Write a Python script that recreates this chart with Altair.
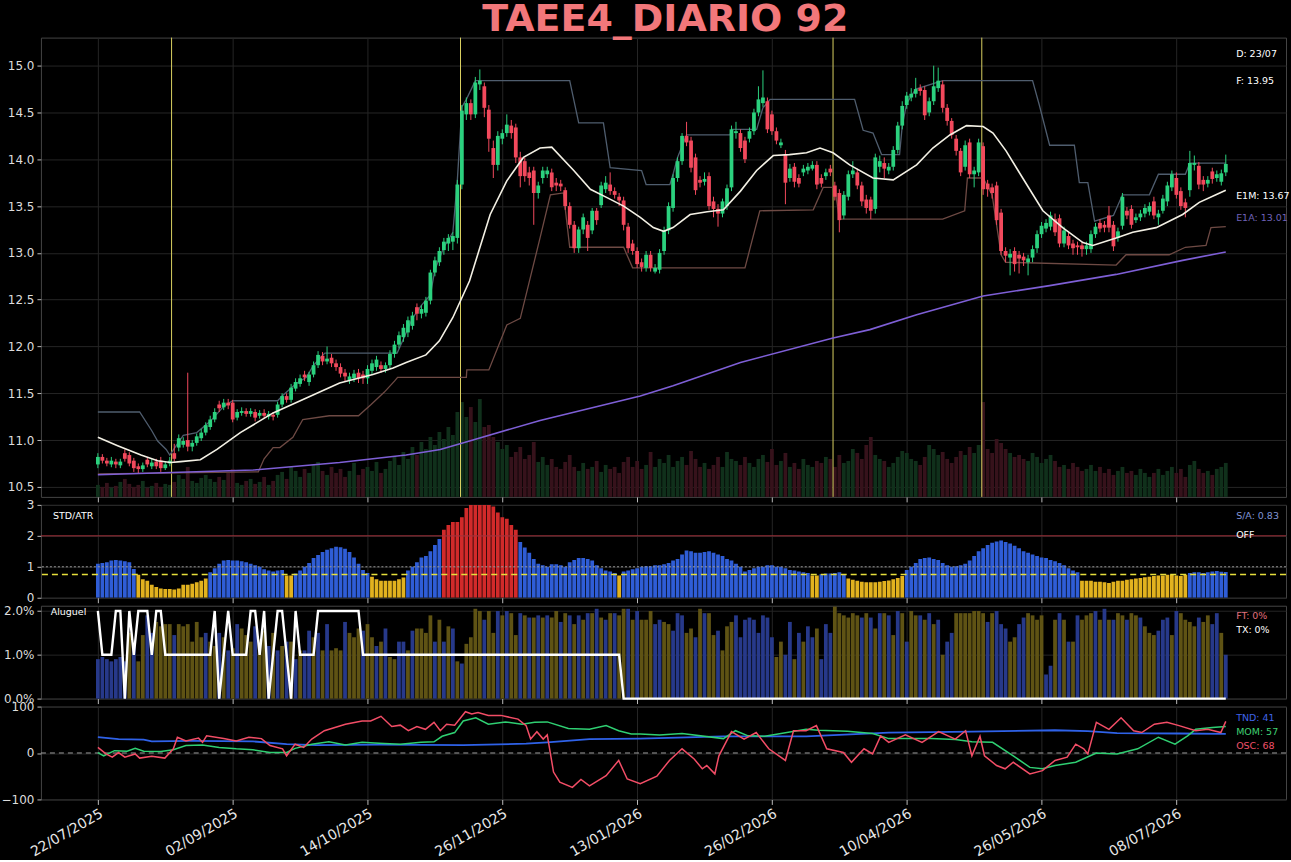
import altair as alt
import pandas as pd

N = 252
TICK_BARS = [0, 30, 60, 90, 120, 150, 180, 210, 240]
DATE_LABELS = ['22/07/2025', '02/09/2025', '14/10/2025', '26/11/2025', '13/01/2026',
               '26/02/2026', '10/04/2026', '26/05/2026', '08/07/2026']

OPEN = [10.74,10.82,10.78,10.74,10.77,10.73,10.86,10.84,10.78,10.72,
        10.69,10.79,10.72,10.77,10.78,10.70,10.75,10.86,10.92,10.95,
        11.00,10.93,10.97,11.02,11.08,11.14,11.22,11.38,11.35,11.40,
        11.40,11.24,11.29,11.31,11.28,11.30,11.26,11.29,11.25,11.27,
        11.27,11.38,11.47,11.43,11.55,11.60,11.70,11.62,11.70,11.80,
        11.90,11.84,11.88,11.82,11.78,11.72,11.64,11.66,11.72,11.70,
        11.66,11.74,11.78,11.80,11.76,11.80,11.92,12.02,12.10,12.15,
        12.22,12.42,12.35,12.36,12.49,12.79,12.90,13.03,13.10,13.12,
        13.16,13.73,14.48,14.60,14.48,14.80,14.78,14.53,14.12,13.94,
        14.22,14.28,14.36,14.34,14.02,13.98,13.86,13.88,13.64,13.80,
        13.84,13.86,13.75,13.74,13.67,13.50,13.30,13.05,13.25,13.30,
        13.24,13.45,13.51,13.68,13.73,13.66,13.60,13.56,13.28,13.10,
        13.02,12.90,12.84,12.98,12.80,12.82,13.02,13.24,13.48,13.80,
        13.98,14.25,14.20,14.02,13.78,13.76,13.82,13.55,13.47,13.42,
        13.50,13.70,14.28,14.28,14.20,14.22,14.30,14.50,14.60,14.62,
        14.48,14.30,14.15,14.05,13.80,13.92,13.80,13.86,13.88,13.90,
        13.94,13.80,13.82,13.90,13.72,13.64,13.40,13.60,13.84,13.86,
        13.72,13.57,13.57,13.47,13.92,13.96,13.88,13.92,14.10,14.36,
        14.58,14.66,14.70,14.76,14.74,14.50,14.62,14.76,14.80,14.55,
        14.41,14.22,14.09,13.92,14.18,13.84,13.86,14.14,13.74,13.70,
        13.72,13.43,13.02,12.95,13.02,12.98,12.96,12.90,12.95,13.05,
        13.20,13.26,13.28,13.36,13.37,13.10,13.18,13.10,13.08,13.08,
        13.04,13.04,13.20,13.32,13.30,13.40,13.30,13.16,13.29,13.45,
        13.47,13.35,13.38,13.42,13.44,13.55,13.38,13.45,13.55,13.70,
        13.80,13.66,13.54,13.67,13.94,13.93,13.78,13.74,13.87,13.80,13.76,13.86]
CLOSE = [10.82,10.78,10.75,10.78,10.74,10.77,10.80,10.75,10.70,10.69,
         10.73,10.74,10.76,10.72,10.70,10.74,10.78,10.80,11.02,10.99,
         10.93,10.97,11.04,11.08,11.16,11.22,11.30,11.34,11.40,11.37,
         11.22,11.30,11.31,11.28,11.31,11.24,11.29,11.26,11.28,11.25,
         11.38,11.47,11.43,11.56,11.62,11.66,11.67,11.70,11.80,11.91,
         11.84,11.87,11.82,11.78,11.71,11.68,11.68,11.71,11.66,11.66,
         11.76,11.82,11.86,11.76,11.80,11.92,12.02,12.12,12.20,12.28,
         12.33,12.35,12.40,12.49,12.79,12.92,13.02,13.12,13.16,13.18,
         13.73,14.52,14.60,14.48,14.82,14.84,14.55,14.22,13.94,14.25,
         14.28,14.37,14.28,14.02,13.82,13.82,13.80,13.64,13.72,13.88,
         13.88,13.70,13.72,13.71,13.50,13.30,13.05,13.25,13.38,13.16,
         13.45,13.35,13.72,13.75,13.66,13.62,13.56,13.30,13.05,13.02,
         12.88,12.85,12.98,12.84,12.84,13.00,13.24,13.50,13.80,13.98,
         14.25,14.18,13.91,13.67,13.75,13.79,13.50,13.47,13.42,13.55,
         13.69,14.32,14.30,14.12,14.00,14.30,14.50,14.64,14.66,14.32,
         14.30,14.20,14.18,13.75,13.90,13.76,13.74,13.90,13.92,13.94,
         13.73,13.74,13.86,13.86,13.60,13.35,13.62,13.84,13.88,13.72,
         13.55,13.48,13.45,14.02,13.98,13.90,13.92,14.10,14.36,14.57,
         14.68,14.70,14.75,14.73,14.47,14.62,14.78,14.84,14.55,14.41,
         14.26,14.09,13.86,14.15,13.84,13.88,14.18,13.68,13.68,13.64,
         13.35,13.02,12.97,12.99,12.88,12.94,12.92,12.94,13.04,13.20,
         13.29,13.32,13.40,13.22,13.10,13.24,13.08,13.05,13.06,13.04,
         13.08,13.20,13.28,13.26,13.27,13.27,13.07,13.23,13.60,13.40,
         13.30,13.38,13.42,13.48,13.50,13.40,13.42,13.58,13.72,13.84,
         13.62,13.50,13.48,13.96,13.96,13.73,13.73,13.78,13.79,13.84,13.85,13.95]
HIGH = [10.86,10.85,10.81,10.82,10.80,10.80,10.90,10.87,10.81,10.75,
        10.76,10.82,10.80,10.80,10.82,10.77,10.82,10.96,11.06,11.03,
        11.72,11.00,11.07,11.12,11.19,11.26,11.34,11.42,11.44,11.44,
        11.43,11.33,11.35,11.34,11.34,11.33,11.32,11.33,11.31,11.30,
        11.41,11.50,11.50,11.60,11.66,11.70,11.74,11.73,11.84,11.95,
        11.94,12.00,11.92,11.86,11.82,11.76,11.72,11.75,11.76,11.74,
        11.80,11.86,11.90,11.84,11.83,11.96,12.06,12.16,12.24,12.32,
        12.37,12.46,12.44,12.53,12.82,12.96,13.06,13.16,13.20,13.22,
        13.78,14.58,14.66,14.64,14.88,14.96,14.82,14.58,14.20,14.30,
        14.32,14.48,14.42,14.38,14.08,14.02,13.92,13.92,13.76,13.92,
        13.92,13.90,13.80,13.78,13.70,13.54,13.34,13.28,13.42,13.34,
        13.48,13.48,13.76,13.82,13.86,13.70,13.64,13.60,13.32,13.14,
        13.06,12.94,13.02,13.02,12.88,13.04,13.28,13.54,13.84,14.02,
        14.28,14.40,14.24,14.06,13.82,13.86,13.86,13.60,13.52,13.58,
        13.73,14.36,14.40,14.32,14.24,14.34,14.54,14.78,14.95,14.66,
        14.52,14.34,14.22,14.10,13.95,13.96,13.84,13.94,13.96,13.98,
        13.98,13.84,13.90,13.94,13.76,13.68,13.66,13.88,13.98,13.90,
        13.76,13.62,13.60,14.06,14.04,14.02,13.96,14.14,14.40,14.62,
        14.72,14.76,14.87,14.80,14.78,14.66,15.00,14.98,14.84,14.59,
        14.44,14.26,14.12,14.20,14.22,13.92,14.22,14.18,13.78,13.74,
        13.76,13.47,13.06,13.04,13.06,13.02,13.00,12.98,13.08,13.24,
        13.33,13.36,13.44,13.42,13.41,13.28,13.22,13.14,13.12,13.12,
        13.12,13.24,13.32,13.36,13.34,13.50,13.34,13.27,13.64,13.49,
        13.51,13.42,13.46,13.52,13.54,13.60,13.46,13.62,13.76,13.88,
        13.86,13.70,13.58,14.09,14.04,13.97,13.82,13.82,13.91,13.88,13.89,14.05]
LOW = [10.70,10.75,10.72,10.71,10.70,10.70,10.77,10.72,10.66,10.64,
       10.66,10.71,10.69,10.69,10.66,10.68,10.72,10.77,10.88,10.92,
       10.88,10.88,10.94,10.99,11.05,11.11,11.19,11.30,11.32,11.33,
       11.19,11.21,11.26,11.25,11.25,11.20,11.23,11.23,11.22,11.21,
       11.24,11.35,11.40,11.40,11.52,11.57,11.63,11.58,11.67,11.77,
       11.80,11.81,11.78,11.74,11.67,11.63,11.60,11.62,11.61,11.60,
       11.60,11.70,11.74,11.72,11.72,11.77,11.88,11.98,12.05,12.10,
       12.18,12.28,12.30,12.32,12.45,12.75,12.86,12.98,13.02,13.03,
       13.10,13.68,14.42,14.42,14.44,14.74,14.45,14.08,13.80,13.88,
       14.16,14.24,14.22,13.96,13.70,13.76,13.72,13.30,13.58,13.74,
       13.80,13.66,13.66,13.66,13.46,13.26,13.00,13.00,13.20,13.02,
       13.20,13.30,13.48,13.64,13.62,13.58,13.50,13.24,13.00,12.98,
       12.84,12.80,12.80,12.80,12.78,12.78,12.98,13.20,13.44,13.76,
       13.94,14.14,13.86,13.62,13.70,13.72,13.46,13.38,13.28,13.38,
       13.46,13.66,14.22,14.08,13.96,14.18,14.26,14.46,14.56,14.28,
       14.26,14.16,14.12,13.52,13.76,13.70,13.70,13.82,13.84,13.88,
       13.68,13.70,13.78,13.82,13.56,13.22,13.36,13.56,13.80,13.68,
       13.50,13.42,13.36,13.42,13.86,13.80,13.84,13.88,14.06,14.32,
       14.54,14.62,14.66,14.68,14.42,14.46,14.58,14.72,14.50,14.36,
       14.22,14.04,13.82,13.88,13.80,13.70,13.82,13.62,13.60,13.58,
       13.30,12.98,12.90,12.76,12.80,12.78,12.86,12.76,12.90,13.00,
       13.16,13.22,13.24,13.18,13.06,13.06,13.04,12.98,12.98,12.96,
       12.98,13.00,13.16,13.22,13.22,13.22,13.02,13.12,13.25,13.36,
       13.26,13.32,13.34,13.38,13.40,13.36,13.30,13.42,13.50,13.66,
       13.58,13.46,13.38,13.60,13.88,13.68,13.66,13.70,13.74,13.76,13.72,13.82]
VOLUME = [12,10,14,9,11,15,18,13,10,12,16,9,11,14,10,13,12,15,22,18,
          30,16,14,19,22,18,15,20,17,24,28,14,12,16,18,13,15,20,12,16,
          22,25,18,30,26,20,28,24,32,35,26,22,30,24,28,20,26,34,22,28,
          30,26,35,24,28,36,40,32,45,38,50,42,55,48,60,52,65,58,70,62,
          85,95,80,90,75,98,70,72,60,55,
          48,52,40,45,50,38,42,55,35,40,
          32,38,30,28,35,42,30,26,34,28,30,36,25,32,28,30,24,35,40,30,
          36,28,32,45,30,38,34,42,30,36,40,32,46,38,30,34,28,32,40,30,
          45,38,36,32,40,34,30,38,42,35,48,32,36,44,30,34,28,38,32,30,
          36,34,40,38,30,42,34,36,48,44,38,52,60,42,38,36,30,34,40,46,
          44,38,36,32,40,52,48,42,45,38,34,40,46,42,50,44,52,95,48,44,
          58,54,48,44,40,42,38,36,44,40,34,38,42,36,30,32,28,34,30,26,
          28,32,26,30,24,28,22,26,30,24,26,22,28,24,20,24,28,22,26,30,
          24,28,20,32,36,28,24,26,22,28,30,34]

E1M_X = [0,4.4,9.6,13.3,16.2,18.4,22.8,26.5,31.7,39,46.4,50.1,53.8,61.2,65.7,68.6,73,76,79,82.7,
         87.3,91,94.7,98.4,101,105.9,109.6,113.3,117,120.7,123.6,125.9,128,131.8,135.6,139.2,143,146.6,150.3,153.9,
         157.7,160.7,163.6,167.3,172.5,177,182.2,185.8,189.6,193.3,197,199.2,202.1,205.8,210.3,214.7,219.2,221.4,226.6,230.3,
         235.5,241.4,245.1,248.8,251]
E1M_Y = [11.03,10.94,10.84,10.78,10.76,10.77,10.79,10.90,11.08,11.29,11.45,11.53,11.61,11.70,11.77,11.83,11.91,12.06,12.31,12.70,
         13.41,13.77,14.02,14.12,14.13,13.88,13.68,13.59,13.50,13.38,13.27,13.23,13.27,13.41,13.44,13.46,13.66,13.88,14.04,14.05,
         14.07,14.12,14.07,13.94,13.80,13.78,13.94,14.12,14.26,14.36,14.35,14.28,14.09,13.80,13.45,13.27,13.11,13.08,13.16,13.22,
         13.27,13.41,13.54,13.62,13.67]
E1A_X = [0,34.6,53.8,68.6,76.2,82.7,98.4,120.7,128,143,163.6,171.8,182.2,197,211.8,226.6,241.4,251]
E1A_Y = [10.63,10.68,10.76,10.84,10.90,10.99,11.21,11.47,11.58,11.83,12.09,12.18,12.34,12.54,12.65,12.77,12.92,13.01]

UPPER_X = [0,9.3,12,13.3,15.2,16,19,22,25,28,30,40,41,44,46.4,48,50.5,66.6,68,70,72,74,75,77,79,80,81,82,84,
           105,107,112.5,114,121,122,127.3,128,129,131,140.7,141,146.6,148,149.6,168.4,170.3,172.5,174.4,178.4,
           179,180,182,188,208,209.5,211.8,217.3,218.4,220.3,221.8,226,228,234,236,242,243,251]
UPPER_Y = [11.30,11.30,11.10,10.99,10.90,10.84,11.05,11.08,11.20,11.36,11.42,11.42,11.47,11.60,11.67,11.80,11.93,11.93,
           12.08,12.30,12.44,12.55,12.82,13.06,13.22,13.78,14.56,14.64,14.84,
           14.84,14.39,14.39,13.91,13.88,13.73,13.73,13.84,14.02,14.26,14.26,14.32,14.32,14.55,14.64,14.64,14.31,14.28,14.05,14.05,
           14.36,14.60,14.75,14.84,14.84,14.58,14.15,14.15,13.75,13.75,13.34,13.40,13.62,13.62,13.84,13.84,13.96,13.96]
LOWER_X = [0,35.7,37,39,40.5,43.4,45.6,51.5,58,60.8,63.7,66,66.7,82,82.1,87,91,94,98.4,100.7,103.6,105,117,119,
           144,147.3,159.2,161.4,164,165,188,192.9,193.5,197,199,200,201,202,226.6,228.8,238.4,242,246.6,247.7,251]
LOWER_Y = [10.64,10.66,10.80,10.92,10.92,11.03,11.22,11.26,11.26,11.38,11.51,11.63,11.67,11.67,11.75,11.75,12.23,12.30,
           13.16,13.62,13.64,13.06,13.06,12.84,12.84,13.45,13.46,13.70,13.70,13.36,13.36,13.45,13.80,13.80,13.62,13.30,
           12.98,12.90,12.87,12.98,12.98,13.06,13.08,13.27,13.28]
EVENT_BARS = [16.4, 80.7, 163.6, 196.7]

STD_ATR = [1.10,1.12,1.15,1.20,1.22,1.20,1.18,1.15,0.93,0.74,
           0.60,0.55,0.42,0.35,0.30,0.28,0.28,0.27,0.30,0.42,
           0.42,0.45,0.50,0.55,0.62,0.82,0.95,1.10,1.20,1.22,
           1.20,1.20,1.18,1.15,1.10,1.05,1.00,0.92,0.88,0.85,
           0.88,0.90,0.72,0.72,0.78,0.88,1.00,1.12,1.28,1.38,
           1.48,1.55,1.60,1.65,1.63,1.58,1.48,1.30,1.10,0.90,
           0.80,0.68,0.60,0.55,0.55,0.55,0.55,0.60,0.65,0.88,
           1.00,1.15,1.30,1.35,1.50,1.70,1.90,2.20,2.35,2.45,
           2.45,2.60,2.90,3.20,3.20,3.20,3.20,3.20,2.95,2.75,
           2.60,2.55,2.35,2.20,1.80,1.62,1.45,1.25,1.10,1.05,
           1.00,1.08,1.08,1.05,1.00,1.15,1.22,1.28,1.28,1.25,
           1.20,1.05,0.95,0.88,0.85,0.80,0.72,0.85,0.88,0.92,
           0.95,1.00,1.02,1.02,1.05,1.05,1.08,1.12,1.20,1.25,
           1.40,1.53,1.50,1.45,1.45,1.48,1.50,1.45,1.40,1.35,
           1.25,1.20,1.10,1.00,0.85,0.90,0.95,1.00,1.00,1.05,
           1.05,1.00,1.00,0.95,0.90,0.88,0.85,0.82,0.80,0.72,
           0.72,0.76,0.78,0.78,0.80,0.82,0.76,0.62,0.58,0.55,
           0.52,0.50,0.50,0.50,0.52,0.54,0.56,0.60,0.64,0.70,
           0.90,1.00,1.12,1.25,1.28,1.30,1.25,1.22,1.12,1.05,
           1.00,1.02,1.05,1.10,1.20,1.35,1.50,1.60,1.70,1.78,
           1.82,1.85,1.80,1.75,1.68,1.60,1.50,1.45,1.40,1.35,
           1.30,1.28,1.22,1.18,1.12,1.05,0.95,0.88,0.82,0.55,
           0.55,0.55,0.52,0.52,0.50,0.48,0.52,0.55,0.55,0.58,
           0.60,0.62,0.64,0.66,0.68,0.70,0.72,0.72,0.74,0.74,
           0.72,0.70,0.74,0.80,0.82,0.82,0.80,0.82,0.85,0.86,
           0.84,0.83]

ALUGUEL_BAR = [0.90,0.95,0.90,0.85,0.90,0.95,0.85,1.50,1.20,0.85,
               1.45,1.90,1.50,1.75,1.65,1.70,1.70,1.45,1.70,1.65,
               1.70,1.30,1.75,1.40,1.50,1.30,1.20,1.50,1.40,1.10,
               1.15,1.70,1.60,1.45,1.30,1.65,1.35,1.55,1.20,1.50,
               1.10,1.20,1.30,1.30,0.90,1.10,1.10,1.55,1.40,1.50,
               1.10,1.70,1.10,1.15,1.10,1.75,1.50,1.40,1.60,1.55,
               1.70,1.40,1.20,1.30,1.60,0.95,0.90,1.30,1.30,1.10,
               1.55,1.60,1.60,1.50,1.90,1.30,1.80,1.30,1.65,1.60,
               0.85,0.80,1.25,1.40,2.05,2.00,1.80,2.00,1.50,2.00,
               1.90,2.00,1.95,1.45,1.95,1.90,1.85,1.85,1.90,1.85,
               1.90,1.85,2.00,1.75,1.95,1.90,1.70,1.90,1.80,1.95,
               1.95,2.05,1.85,1.80,1.95,1.95,1.90,2.05,2.05,1.80,
               2.00,1.80,1.80,2.00,1.70,1.80,1.75,1.70,1.55,1.95,
               1.90,1.50,1.60,1.40,2.05,1.95,1.95,1.45,1.55,1.10,
               1.65,1.75,1.90,1.40,1.80,1.85,1.80,1.50,1.90,1.85,
               1.40,0.95,1.30,1.00,1.75,0.90,1.50,1.30,1.65,1.40,
               1.60,0.90,1.70,1.50,2.10,1.95,1.90,1.85,1.95,1.90,
               1.85,1.95,1.85,1.60,1.95,1.95,1.90,1.45,2.00,1.95,
               1.30,2.00,1.90,1.90,1.80,1.95,1.70,1.80,1.00,1.30,
               1.50,1.95,1.95,1.95,1.95,2.00,2.00,1.95,1.75,1.95,
               2.00,1.70,1.60,1.30,1.40,1.70,1.85,1.95,1.90,1.80,
               1.90,0.55,0.75,1.80,1.95,1.80,1.30,1.30,1.90,1.80,
               1.90,1.95,2.00,1.80,2.05,1.80,1.80,1.95,1.90,1.80,
               1.95,1.90,1.85,1.65,1.50,1.45,1.55,1.80,1.85,1.45,
               2.00,1.95,1.80,1.75,1.65,1.85,1.75,1.90,1.70,1.95,
               1.50,1.00]
ALUGUEL_OLIVE = [0,0,0,0,0,0,0,1,0,1, 1,0,0,1,1,1,1,0,1,1, 1,1,1,1,0,1,1,0,1,0,
                 1,0,1,1,1,0,1,1,0,1, 0,1,0,1,0,1,0,0,1,0, 1,0,1,1,1,0,1,1,1,0,
                 1,1,0,1,0,1,1,0,0,1, 0,1,1,1,1,0,1,0,1,0, 1,0,1,1,1,1,0,1,1,0,
                 1,0,1,1,0,1,0,1,0,1, 0,1,1,0,1,0,1,0,1,0, 1,0,1,0,1,0,1,1,0,1,
                 0,1,1,1,0,0,1,1,0,0, 0,1,1,0,1,0,1,1,0,1, 1,1,0,0,0,0,0,0,0,0,
                 0,1,1,0,0,1,0,1,0,0, 1,0,0,0,1,1,1,1,1,1, 0,1,0,1,0,1,0,1,0,1,
                 0,1,1,0,1,0,1,0,1,0, 0,1,1,1,1,1,1,1,0,1, 0,0,0,1,1,0,0,1,1,1,
                 1,0,0,1,0,1,0,1,0,1, 1,1,0,1,0,1,0,1,1,0, 1,1,0,1,1,1,0,0,0,1,
                 0,1,1,1,1,0,1,1,0,0, 1,0]
RATE_X = [0,1,3,4,5,6,7,8,9,11,12,13,14,15,24,25,26,27,28,29,30,33,34,35,36,37,38,39,40,41,
          42,43,44,45,48,49,58,59,116,117,251]
RATE_Y = [2,1,1,2,2,0,2,1,2,2,1,2,2,1,1,1,2,0,1,2,1,1,2,2,1,2,0,1,2,2,
          1,0,2,1,1,2,2,1,1,0,0]

TND_X = [0,4.6,10.2,12,20.5,34.5,42,48.6,62.6,81.3,95.3,100,109.4,120.7,139.2,157.6,176,194.5,213,220.3,226.8,240.6,251]
TND_Y = [34,30,29,25,26,25,19,17,18,17,20,23,30,31,36,36,44,46,49,47,43,42,41]
MOM_X = [0,1.3,3.7,6.5,8.3,10.2,14,16.8,19.6,23.3,27,30.8,34.5,38.3,42,43.9,47.6,51.4,55.1,58.8,
         62.6,67.3,71.9,74.8,76.6,79.4,81.3,84.1,86.9,90.7,94.4,97.2,100,104.7,109.4,113.1,115.9,118.7,120.7,125,
         130,139.2,141.9,144.7,148.4,157.6,160.4,166.8,172.4,176,185.3,190.8,194.5,199.1,203.7,207.4,210.2,213,217.6,222.2,
         226.8,231.4,236,239.7,242.5,244.3,248,251]
MOM_Y = [1,-6,5,4,10,4,3,7,16,17,12,9,7,1,1,10,19,24,17,23,
         21,19,23,24,36,44,69,76,62,67,62,66,67,53,51,59,48,41,41,39,
         42,31,48,37,36,51,49,47,42,31,31,29,24,23,-6,-31,-34,-27,-20,0,
         -2,9,34,19,37,51,55,57]
OSC_X = [0,1.8,3.2,4.6,6,8.3,9.3,12,14.9,16.8,17.7,19.6,22.4,23.3,24.2,28,30.8,33.6,36.4,38.3,
         41.1,42,43.9,45.8,47.6,50.4,55.1,58.8,60.7,63,65.4,67.3,69.1,71,72.9,74.8,76.2,77.6,79.4,81.8,
         83.2,84.6,86.9,89.7,93.5,95.3,96.3,97.7,99.1,100,101.4,102.8,105.6,107.5,109.4,113.1,115.9,117.8,120.7,124.4,
         127.2,130,132.7,134.5,135.5,137.3,138.2,141,143.8,146.5,149.3,153,154.8,157.6,159.9,162.2,165.9,167.7,170.5,172.4,
         174.2,176,179.7,183.4,187.1,190.8,193.1,194.5,196.3,197.3,200,201.9,203.7,207.4,210.2,213,215.7,217.6,219.4,220.3,
         222.2,225,227.7,230.5,232.3,235.1,237.9,240.6,244.3,247,249.9,251]
OSC_Y = [12,-2,-9,1,-9,-2,-11,-7,-11,9,34,26,32,23,37,31,26,34,31,16,
         9,-6,19,12,30,48,62,69,69,79,57,60,48,57,51,66,48,62,60,89,
         84,87,81,81,73,59,30,46,30,39,-41,-63,-74,-57,-71,-49,-16,-56,-66,-50,
         -16,9,-13,-34,-27,-45,-6,46,30,44,9,-16,48,48,59,9,1,-20,9,-2,
         37,23,39,23,46,30,48,-6,36,-6,-27,-34,-20,-45,-38,-16,-9,19,9,-2,
         66,51,76,48,44,62,66,59,48,51,44,68]

# ---------------- layout / style ----------------
W = 1247
XDOM = [-12.67, 264.4]
XSCALE = alt.Scale(domain=XDOM, nice=False, zero=False)
LABEL_EXPR = "[" + ",".join("'%s'" % d for d in DATE_LABELS) + "][round(datum.value/30)]"
FONT = 'DejaVu Sans'
GREEN, RED = '#2bd17e', '#f2495c'
VGREEN, VRED = '#10301b', '#36121b'
IDENT = dict(scale=None, legend=None)
TXT = 9.5


def xaxis(bottom=False):
    if bottom:
        return alt.Axis(values=TICK_BARS, labelExpr=LABEL_EXPR, labelAngle=-30, labelAlign='right',
                        labelBaseline='top', labelFontSize=14, labelColor='#e8e8e8', labelPadding=2,
                        labelOverlap=False, labelBound=False, tickSize=5, grid=True, title=None)
    return alt.Axis(values=TICK_BARS, labels=False, tickSize=5, grid=True, title=None,
                    minExtent=0, maxExtent=5)


def X(field, bottom=False):
    return alt.X(field, type='quantitative', scale=XSCALE, axis=xaxis(bottom))


def yaxis(values, fmt=None, expr=None):
    kw = dict(values=values, orient='left', grid=True, title=None, tickSize=4, labelPadding=3,
              minExtent=40, maxExtent=40)
    if fmt:
        kw['format'] = fmt
    if expr:
        kw['labelExpr'] = expr
    return alt.Axis(**kw)


idx = list(range(N))
df = pd.DataFrame({'i': idx, 'open': OPEN, 'high': HIGH, 'low': LOW, 'close': CLOSE, 'vol': VOLUME})
up = [c >= o for o, c in zip(OPEN, CLOSE)]
df['col'] = [GREEN if u else RED for u in up]
df['vcol'] = [VGREEN if u else VRED for u in up]
df['x0'] = df['i'] - 0.42
df['x1'] = df['i'] + 0.42
df['z'] = 0

YMAIN = alt.Scale(domain=[10.393, 15.30], nice=False, zero=False)
YAX_MAIN = yaxis([10.5, 11.0, 11.5, 12.0, 12.5, 13.0, 13.5, 14.0, 14.5, 15.0], fmt='.1f')


def Ym(field):
    return alt.Y(field, type='quantitative', scale=YMAIN, axis=YAX_MAIN)


vol = alt.Chart(df).mark_rect().encode(
    x=X('x0'), x2='x1:Q',
    y=alt.Y('vol:Q', scale=alt.Scale(domain=[0, 460], nice=False), axis=None), y2='z:Q',
    color=alt.Color('vcol:N', **IDENT))

ev = alt.Chart(pd.DataFrame({'b': EVENT_BARS})).mark_rule(color='#d9d060', strokeWidth=1).encode(x=X('b'))
up_line = alt.Chart(pd.DataFrame({'x': UPPER_X, 'y': UPPER_Y})).mark_line(color='#4f5d6e', strokeWidth=1.3).encode(
    x=X('x'), y=Ym('y'))
lo_line = alt.Chart(pd.DataFrame({'x': LOWER_X, 'y': LOWER_Y})).mark_line(color='#6e4a44', strokeWidth=1.3).encode(
    x=X('x'), y=Ym('y'))
wick = alt.Chart(df).mark_rule(strokeWidth=1).encode(x=X('i'), y=Ym('low'), y2='high:Q',
                                                     color=alt.Color('col:N', **IDENT))
body = alt.Chart(df).mark_rect().encode(x=X('x0'), x2='x1:Q', y=Ym('open'), y2='close:Q',
                                        color=alt.Color('col:N', **IDENT))
e1a = alt.Chart(pd.DataFrame({'x': E1A_X, 'y': E1A_Y})).mark_line(color='#7e5fd6', strokeWidth=1.6).encode(
    x=X('x'), y=Ym('y'))
e1m = alt.Chart(pd.DataFrame({'x': E1M_X, 'y': E1M_Y})).mark_line(color='#f3f0e4', strokeWidth=1.6).encode(
    x=X('x'), y=Ym('y'))
main_txt = pd.DataFrame({
    'x': [253.3, 253.3, 253.3, 253.3],
    'y': [15.128, 14.84, 13.61, 13.376],
    't': ['D: 23/07', 'F: 13.95', 'E1M: 13.67', 'E1A: 13.01'],
    'c': ['#ffffff', '#ffffff', '#ffffff', '#6f62b8']})
mtxt = alt.Chart(main_txt).mark_text(align='left', baseline='middle', font=FONT, fontSize=TXT).encode(
    x=X('x'), y=Ym('y'), text='t:N', color=alt.Color('c:N', **IDENT))

price = alt.layer(ev, up_line, lo_line, wick, body, e1a, e1m, mtxt)
main = alt.layer(vol, price).resolve_scale(y='independent').properties(width=W, height=460)

# ---------------- STD/ATR ----------------
sdf = pd.DataFrame({'i': idx, 'v': STD_ATR})
sdf['x0'] = sdf['i'] - 0.42
sdf['x1'] = sdf['i'] + 0.42
sdf['z'] = 0
sdf['col'] = ['#d12a2a' if v > 2 else ('#e2b21f' if v < 0.75 else '#2f5dd6') for v in STD_ATR]
YSTD = alt.Scale(domain=[0, 3], nice=False)
YAX_STD = yaxis([0, 1, 2, 3], fmt='d')


def Ys(field):
    return alt.Y(field, type='quantitative', scale=YSTD, axis=YAX_STD)


sbars = alt.Chart(sdf).mark_rect(clip=True).encode(
    x=X('x0'), x2='x1:Q', y=Ys('v'), y2='z:Q', color=alt.Color('col:N', **IDENT))
s_red = alt.Chart(pd.DataFrame({'y': [2]})).mark_rule(color='#a3303a', strokeWidth=1).encode(y=Ys('y'))
s_gray = alt.Chart(pd.DataFrame({'y': [1]})).mark_rule(color='#9a9a9a', strokeWidth=1, strokeDash=[2, 2]).encode(
    y=Ys('y'))
s_yel = alt.Chart(pd.DataFrame({'y': [0.75]})).mark_rule(color='#e6df3c', strokeWidth=1.4,
                                                          strokeDash=[6, 4]).encode(y=Ys('y'))
std_txt = pd.DataFrame({'x': [-10, 253.3, 253.3], 'y': [2.645, 2.645, 2.03],
                        't': ['STD/ATR', 'S/A: 0.83', 'OFF'], 'c': ['#ffffff', '#8094d4', '#ffffff']})
stxt = alt.Chart(std_txt).mark_text(align='left', baseline='middle', font=FONT, fontSize=TXT).encode(
    x=X('x'), y=Ys('y'), text='t:N', color=alt.Color('c:N', **IDENT))
std = alt.layer(sbars, s_gray, s_yel, s_red, stxt).properties(width=W, height=93)

# ---------------- Aluguel ----------------
adf = pd.DataFrame({'i': idx, 'v': ALUGUEL_BAR})
adf['col'] = ['#5f5314' if o else '#27398a' for o in ALUGUEL_OLIVE]
adf['x0'] = adf['i'] - 0.42
adf['x1'] = adf['i'] + 0.42
adf['z'] = 0
YAL = alt.Scale(domain=[0, 2.12], nice=False)
YAX_AL = yaxis([0, 1, 2], expr="format(datum.value, '.1f') + '%'")


def Ya(field):
    return alt.Y(field, type='quantitative', scale=YAL, axis=YAX_AL)


abars = alt.Chart(adf).mark_rect().encode(
    x=X('x0'), x2='x1:Q', y=Ya('v'), y2='z:Q', color=alt.Color('col:N', **IDENT))
aline = alt.Chart(pd.DataFrame({'x': RATE_X, 'y': RATE_Y})).mark_line(color='#ffffff', strokeWidth=2.4).encode(
    x=X('x'), y=Ya('y'))
al_txt = pd.DataFrame({'x': [-10.5, 253.3, 253.3], 'y': [1.98, 1.89, 1.57],
                       't': ['Aluguel', 'FT: 0%', 'TX: 0%'], 'c': ['#ffffff', '#e0707e', '#ffffff']})
atxt = alt.Chart(al_txt).mark_text(align='left', baseline='middle', font=FONT, fontSize=TXT).encode(
    x=X('x'), y=Ya('y'), text='t:N', color=alt.Color('c:N', **IDENT))
alug = alt.layer(abars, aline, atxt).properties(width=W, height=93)

# ---------------- Oscillators ----------------
YOS = alt.Scale(domain=[-100, 100], nice=False)
YAX_OS = yaxis([-100, 0, 100], fmt='d')


def Yo(field):
    return alt.Y(field, type='quantitative', scale=YOS, axis=YAX_OS)


zero = alt.Chart(pd.DataFrame({'y': [0]})).mark_rule(color='#a0a0a0', strokeWidth=1, strokeDash=[5, 4]).encode(
    y=Yo('y'))
tnd = alt.Chart(pd.DataFrame({'x': TND_X, 'y': TND_Y})).mark_line(color='#2f62e8', strokeWidth=1.8).encode(
    x=X('x', True), y=Yo('y'))
mom = alt.Chart(pd.DataFrame({'x': MOM_X, 'y': MOM_Y})).mark_line(color='#2fcf72', strokeWidth=1.5).encode(
    x=X('x', True), y=Yo('y'))
osc = alt.Chart(pd.DataFrame({'x': OSC_X, 'y': OSC_Y})).mark_line(color='#f24d66', strokeWidth=1.5).encode(
    x=X('x', True), y=Yo('y'))
os_txt = pd.DataFrame({'x': [253.3, 253.3, 253.3], 'y': [76.3, 46.2, 16.1],
                       't': ['TND: 41', 'MOM: 57', 'OSC: 68'], 'c': ['#3f63e6', '#3fcf72', '#f0506a']})
otxt = alt.Chart(os_txt).mark_text(align='left', baseline='middle', font=FONT, fontSize=TXT).encode(
    x=X('x', True), y=Yo('y'), text='t:N', color=alt.Color('c:N', **IDENT))
oscp = alt.layer(zero, tnd, mom, osc, otxt).properties(width=W, height=93)

chart = alt.vconcat(main, std, alug, oscp, spacing=8, bounds='flush').properties(
    title=alt.TitleParams('TAEE4_DIARIO 92', fontSize=38, font=FONT, fontWeight='bold', color='#f2777a',
                          anchor='middle', dx=20, offset=-2),
    background='#000000',
    padding={'left': 0, 'top': 0, 'right': 0, 'bottom': 0},
).configure_view(stroke='#444444', strokeWidth=1, fill='#000000').configure_axis(
    labelFont=FONT, labelColor='#dddddd', labelFontSize=12, tickColor='#bbbbbb', domain=False,
    gridColor='#252525', gridWidth=1)

chart.save('out.html', embed_options={'renderer': 'svg', 'actions': False})
